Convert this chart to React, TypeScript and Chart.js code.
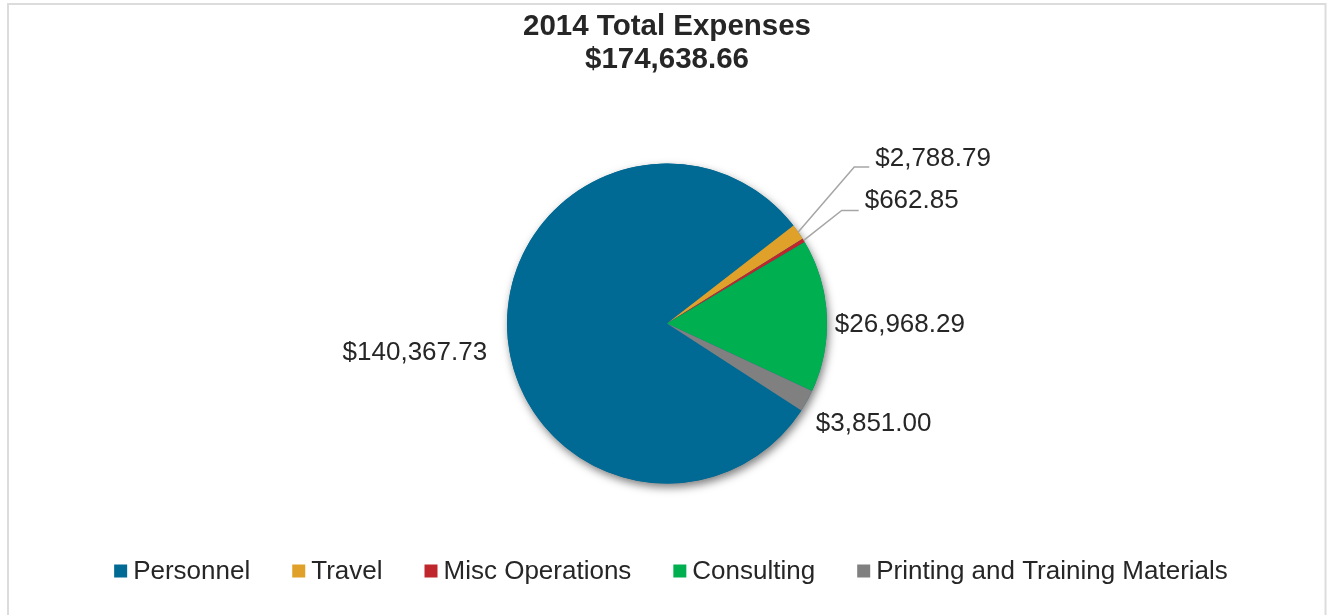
import React, { useEffect, useRef } from "react";
import { Chart, registerables } from "chart.js";

Chart.register(...registerables);

const categories = ["Personnel", "Travel", "Misc Operations", "Consulting", "Printing and Training Materials"];
const expenses = [140367.73, 2788.79, 662.85, 26968.29, 3851.0];
const titleLines = ["2014 Total Expenses", "$174,638.66"];
const sliceColors = ["#006994", "#e0a12b", "#c0272d", "#00b050", "#808080"];

const FONT = "'Liberation Sans', Arial, sans-serif";
const TEXT_COLOR = "#262626";

// Label placement styles (relative to each arc's geometry)
const labelStyles: any[] = [
  { kind: "plain", gap: 20, dy: 22, align: "right" },
  { kind: "leader", elbowDx: 56, elbowDy: -65, run: 15, textGap: 6, dy: -8 },
  { kind: "leader", elbowDx: 38, elbowDy: -30, run: 17, textGap: 6, dy: -10 },
  { kind: "plain", gap: 8, dy: 10, align: "left" },
  { kind: "plain", gap: 10, dy: 18, align: "left" },
];

const fmt = (v: number) =>
  "$" + v.toLocaleString("en-US", { minimumFractionDigits: 2, maximumFractionDigits: 2 });

const framePlugin = {
  id: "frame",
  beforeDraw(chart: any) {
    const ctx = chart.ctx;
    ctx.save();
    ctx.fillStyle = "#ffffff";
    ctx.fillRect(0, 0, chart.width, chart.height);
    ctx.strokeStyle = "#dcdcdc";
    ctx.lineWidth = 2;
    ctx.strokeRect(8, 4, 1317.5, 700);
    ctx.restore();
  },
};

const shadowPlugin = {
  id: "pieShadow",
  beforeDatasetsDraw(chart: any) {
    const meta = chart.getDatasetMeta(0);
    if (!meta.data.length) return;
    const { x, y, outerRadius } = meta.data[0].getProps(["x", "y", "outerRadius"], true);
    const ctx = chart.ctx;
    ctx.save();
    ctx.shadowColor = "rgba(0,0,0,0.5)";
    ctx.shadowBlur = 8;
    ctx.shadowOffsetX = 2;
    ctx.shadowOffsetY = 4;
    ctx.fillStyle = sliceColors[0];
    ctx.beginPath();
    ctx.arc(x, y, outerRadius, 0, Math.PI * 2);
    ctx.fill();
    ctx.restore();
  },
};

const labelPlugin = {
  id: "sliceLabels",
  afterDatasetsDraw(chart: any) {
    const meta = chart.getDatasetMeta(0);
    const ctx = chart.ctx;
    ctx.save();
    ctx.font = `26px ${FONT}`;
    ctx.fillStyle = TEXT_COLOR;
    ctx.textBaseline = "middle";
    meta.data.forEach((arc: any, i: number) => {
      const { x, y, startAngle, endAngle, outerRadius } = arc.getProps(
        ["x", "y", "startAngle", "endAngle", "outerRadius"],
        true
      );
      const mid = (startAngle + endAngle) / 2;
      const c = Math.cos(mid);
      const s = Math.sin(mid);
      const st = labelStyles[i];
      const text = fmt(expenses[i]);
      if (st.kind === "plain") {
        const ax = x + c * (outerRadius + st.gap);
        const ay = y + s * (outerRadius + st.gap) + st.dy;
        ctx.textAlign = st.align;
        ctx.fillText(text, ax, ay);
      } else {
        const ex = x + c * outerRadius;
        const ey = y + s * outerRadius;
        const bx = ex + st.elbowDx;
        const by = ey + st.elbowDy;
        const endX = bx + st.run;
        ctx.strokeStyle = "#a6a6a6";
        ctx.lineWidth = 1.5;
        ctx.beginPath();
        ctx.moveTo(ex, ey);
        ctx.lineTo(bx, by);
        ctx.lineTo(endX, by);
        ctx.stroke();
        ctx.textAlign = "left";
        ctx.fillText(text, endX + st.textGap, by + st.dy);
      }
    });
    ctx.restore();
  },
};

const legendPlugin = {
  id: "customLegend",
  afterDraw(chart: any) {
    const ctx = chart.ctx;
    ctx.save();
    ctx.font = `26px ${FONT}`;
    ctx.textBaseline = "middle";
    ctx.textAlign = "left";
    const box = 13;
    const boxGap = 6;
    const itemGap = 42;
    const widths = categories.map((c) => ctx.measureText(c).width);
    const total =
      widths.reduce((a, b) => a + b, 0) + categories.length * (box + boxGap) + (categories.length - 1) * itemGap;
    let x = (chart.width - total) / 2 + 4;
    const cy = 571;
    categories.forEach((c, i) => {
      ctx.fillStyle = sliceColors[i];
      ctx.fillRect(x, cy - box / 2, box, box);
      ctx.fillStyle = TEXT_COLOR;
      ctx.fillText(c, x + box + boxGap, cy + 1);
      x += box + boxGap + widths[i] + itemGap;
    });
    ctx.restore();
  },
};

export default function App() {
  const canvasRef = useRef<HTMLCanvasElement | null>(null);

  useEffect(() => {
    if (!canvasRef.current) return;
    Chart.defaults.font.family = FONT;
    const chart = new Chart(canvasRef.current, {
      type: "pie",
      data: {
        labels: categories,
        datasets: [
          {
            data: expenses,
            backgroundColor: sliceColors,
            borderWidth: 0,
            hoverOffset: 0,
            radius: 160,
          } as any,
        ],
      },
      options: {
        responsive: false,
        animation: false,
        rotation: 122.9,
        layout: { padding: { top: 0, bottom: 44, left: 0, right: 0 } },
        plugins: {
          legend: { display: false },
          tooltip: { enabled: false },
          title: {
            display: true,
            text: titleLines,
            color: TEXT_COLOR,
            font: { size: 29.5, weight: "bold", family: FONT, lineHeight: 1.12 },
            padding: { top: 10, bottom: 0 },
          },
        },
      } as any,
      plugins: [framePlugin, shadowPlugin, labelPlugin, legendPlugin],
    });
    return () => chart.destroy();
  }, []);

  return (
    <div style={{ position: "fixed", left: 0, top: 0, width: 1334, height: 615, background: "#fff" }}>
      <canvas ref={canvasRef} width={1334} height={615} style={{ display: "block" }} />
    </div>
  );
}
